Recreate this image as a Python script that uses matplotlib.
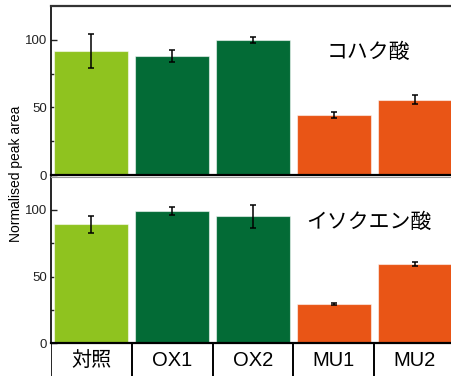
import matplotlib.pyplot as plt
import numpy as np

plt.rcParams['font.family'] = ['Liberation Sans', 'Noto Sans CJK JP']

groups = ['対照', 'OX1', 'OX2', 'MU1', 'MU2']
bar_colors = ['#8fc31f', '#036b36', '#036b36', '#e95516', '#e95516']

# succinic acid (top) and citric/isocitric acid (bottom)
succinic = [92, 88, 100, 44.5, 55.6]
succinic_err = [12.5, 4.4, 2, 2.4, 3.4]
isocitric = [89.2, 99.5, 95.2, 29.3, 59.2]
isocitric_err = [6.5, 3, 8.7, 0.8, 1.5]

W, H = 452, 376
fig = plt.figure(figsize=(W / 100, H / 100), dpi=100)

left = 51 / W
width = 5 * 80.8 / W

def fy(px):
    return 1 - px / H

ax1 = fig.add_axes([left, fy(175), width, fy(6) - fy(175)])
ax2 = fig.add_axes([left, fy(343.3), width, fy(176.5) - fy(343.3)])
ax3 = fig.add_axes([left, fy(380), width, fy(343.3) - fy(380)])

x = np.arange(len(groups))

def panel(ax, vals, errs, title):
    ax.bar(x, vals, width=0.915, color=bar_colors, edgecolor=(1, 1, 1, 0.55),
           linewidth=0.8, zorder=2)
    ax.errorbar(x, vals, yerr=errs, fmt='none', ecolor='black', elinewidth=1.1,
                capsize=2.5, capthick=1.1, zorder=3)
    ax.set_xlim(-0.5, 4.5)
    ax.set_ylim(0, 125)
    ax.set_yticks([0, 50, 100])
    ax.set_yticks([25, 75], minor=True)
    ax.tick_params(axis='y', which='both', direction='in', length=4, width=1,
                   labelsize=9.5, pad=3, colors='#222222')
    ax.set_xticks([])
    ax.spines['right'].set_visible(False)
    ax.spines['left'].set_linewidth(1.2)
    ax.spines['bottom'].set_linewidth(1.6)
    ax.text(3.43, 91, title, ha='center', va='center', fontsize=15)

panel(ax1, succinic, succinic_err, 'コハク酸')
panel(ax2, isocitric, isocitric_err, 'イソクエン酸')
ax1.spines['top'].set_linewidth(1.6)
ax1.spines['top'].set_color('#333333')
ax2.spines['top'].set_linewidth(0.8)
ax2.spines['top'].set_color('#9a9a9a')

# category cells under the bottom panel
ax3.set_xlim(-0.5, 4.5)
ax3.set_ylim(0, 1)
ax3.axis('off')
ax3.plot([-0.5, -0.5], [0, 1], color='black', lw=1.2)
for b in np.arange(0.5, 4.5, 1):
    ax3.plot([b, b], [0, 1], color='black', lw=1.4)
for i, g in enumerate(groups):
    ax3.text(i, 0.52, g, ha='center', va='center', fontsize=14.5)

fig.text(16 / W, fy(174), 'Normalised peak area', rotation=90,
         ha='center', va='center', fontsize=10)

fig.savefig('out.png', dpi=100)
